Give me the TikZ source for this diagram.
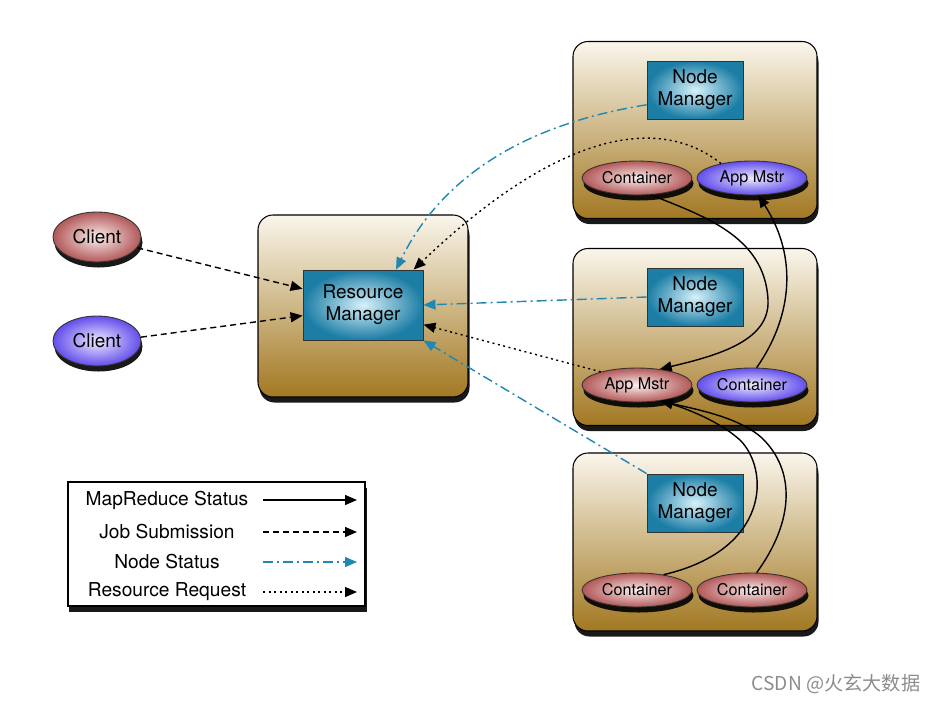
\documentclass[tikz,border=0pt]{standalone}
\usepackage{fontspec}
\setmainfont{TeX Gyre Heros}
\newfontfamily\cjkfont{Noto Sans CJK SC}
\usepackage{xcolor}
\usetikzlibrary{arrows.meta,shadows,shapes.geometric}

\definecolor{panelTop}{RGB}{250,246,236}
\definecolor{panelBot}{RGB}{162,120,34}
\definecolor{mgrOut}{RGB}{28,125,165}
\definecolor{mgrIn}{RGB}{215,242,250}
\definecolor{redOut}{RGB}{178,88,88}
\definecolor{redIn}{RGB}{252,238,238}
\definecolor{bluOut}{RGB}{98,78,235}
\definecolor{bluIn}{RGB}{238,234,255}
\definecolor{nsblue}{RGB}{30,135,178}

\tikzset{
  shade/.style={drop shadow={shadow xshift=0.3mm, shadow yshift=-1.1mm, opacity=0.9, fill=black}},
  panel/.style={draw=black, line width=0.6pt, rounded corners=3mm,
    top color=panelTop, bottom color=panelBot, shade},
  mgr/.style={draw=black!80, line width=0.5pt, inner color=mgrIn, outer color=mgrOut,
    minimum width=24mm, minimum height=14mm, align=center,
    font=\fontsize{10.8}{12.5}\selectfont},
  nm/.style={mgr, minimum width=19.2mm, minimum height=11.6mm},
  blob/.style={ellipse, draw=black!80, line width=0.5pt, inner sep=0pt, shade},
  client/.style={blob, minimum width=17.6mm, minimum height=10mm,
    font=\fontsize{10.8}{12}\selectfont},
  cont/.style={blob, minimum width=22mm, minimum height=6.8mm,
    font=\fontsize{9.2}{10}\selectfont},
  redblob/.style={inner color=redIn, outer color=redOut},
  blublob/.style={inner color=bluIn, outer color=bluOut},
  lgtext/.style={font=\fontsize{10.9}{12}\selectfont},
  tip/.style={-{Triangle[length=2.4mm, width=2mm]}},
  mrstat/.style={tip, line width=0.8pt},
  jobsub/.style={tip, line width=0.8pt, dash pattern=on 1.2mm off 0.8mm},
  nodestat/.style={tip, line width=0.8pt, nsblue, dash pattern=on 2mm off 0.8mm on 0.4mm off 0.8mm},
  resreq/.style={tip, line width=0.8pt, dash pattern=on 0.4mm off 0.7mm},
}

\begin{document}
\begin{tikzpicture}[x=0.2mm, y=-0.2mm]
  \useasboundingbox (0,0) rectangle (938,702);

  % panels
  \node[panel, minimum width=42mm, minimum height=36.4mm] (rmpanel) at (363,306) {};
  \node[panel, minimum width=48.8mm, minimum height=35.4mm] (pnl1) at (695,130) {};
  \node[panel, minimum width=48.8mm, minimum height=35.4mm] (pnl2) at (695,337) {};
  \node[panel, minimum width=48.8mm, minimum height=35.6mm] (pnl3) at (695,542) {};

  % clients
  \node[client, redblob] (cl1) at (97,237) {Client};
  \node[client, blublob] (cl2) at (97,341) {Client};

  % resource manager
  \node[mgr] (rm) at (363,305) {Resource\\Manager};

  % node managers and their containers
  \node[nm] (nm1) at (695,90) {Node\\Manager};
  \node[cont, redblob] (c1) at (637,178) {Container};
  \node[cont, blublob] (am1) at (752,178) {App Mstr};

  \node[nm] (nm2) at (695,297) {Node\\Manager};
  \node[cont, redblob] (am2) at (637,385) {App Mstr};
  \node[cont, blublob] (c2) at (752,385) {Container};

  \node[nm] (nm3) at (695,503) {Node\\Manager};
  \node[cont, redblob] (c3a) at (637,590) {Container};
  \node[cont, redblob] (c3b) at (752,590) {Container};

  % job submission
  \draw[jobsub] (cl1.-15) -- (rm.165);
  \draw[jobsub] (cl2.5) -- (rm.190);

  % node status
  \draw[nodestat] (nm1.197) .. controls (520,125) and (440,180) .. (rm.47);
  \draw[nodestat] (nm2.west) -- (rm.east);
  \draw[nodestat] (nm3.north west) -- (rm.south east);

  % resource request
  \draw[resreq] (am1.155) .. controls (660,115) and (560,130) .. (rm.35);
  \draw[resreq] (am2.160) -- (rm.-18);

  % mapreduce status
  \draw[mrstat] (c1.-50) .. controls (700,215) and (765,235) .. (768,300)
    .. controls (770,340) and (720,355) .. (am2.35);
  \draw[mrstat] (c2.75) .. controls (790,320) and (800,260) .. (am1.-70);
  \draw[mrstat] (c3a.30) .. controls (770,550) and (770,470) .. (740,440)
    .. controls (720,422) and (690,410) .. (am2.-33);
  \draw[mrstat] (c3b.75) .. controls (795,520) and (795,470) .. (762,438)
    .. controls (740,418) and (700,410) .. (am2.-35);

  % legend
  \node[draw=black, line width=0.6pt, fill=white, shade,
    minimum width=59.4mm, minimum height=24.8mm] (lgbox) at (216.5,544) {};
  \node[lgtext] (lgmr) at (167,500) {MapReduce Status};
  \node[lgtext] (lgjs) at (167,532) {Job Submission};
  \node[lgtext] (lgns) at (167,562) {Node Status};
  \node[lgtext] (lgrr) at (167,592) {Resource Request};
  \coordinate (mrA) at (263,500); \coordinate (mrB) at (357,500);
  \coordinate (jsA) at (263,532); \coordinate (jsB) at (357,532);
  \coordinate (nsA) at (263,562); \coordinate (nsB) at (357,562);
  \coordinate (rrA) at (263,592); \coordinate (rrB) at (357,592);
  \draw[mrstat] (mrA) -- (mrB);
  \draw[jobsub] (jsA) -- (jsB);
  \draw[nodestat] (nsA) -- (nsB);
  \draw[resreq] (rrA) -- (rrB);

  % watermark
  \node[text=black!45, font=\cjkfont\fontsize{10.9}{12}\selectfont] (wm) at (836,684)
    {CSDN @火玄大数据};
\end{tikzpicture}
\end{document}
